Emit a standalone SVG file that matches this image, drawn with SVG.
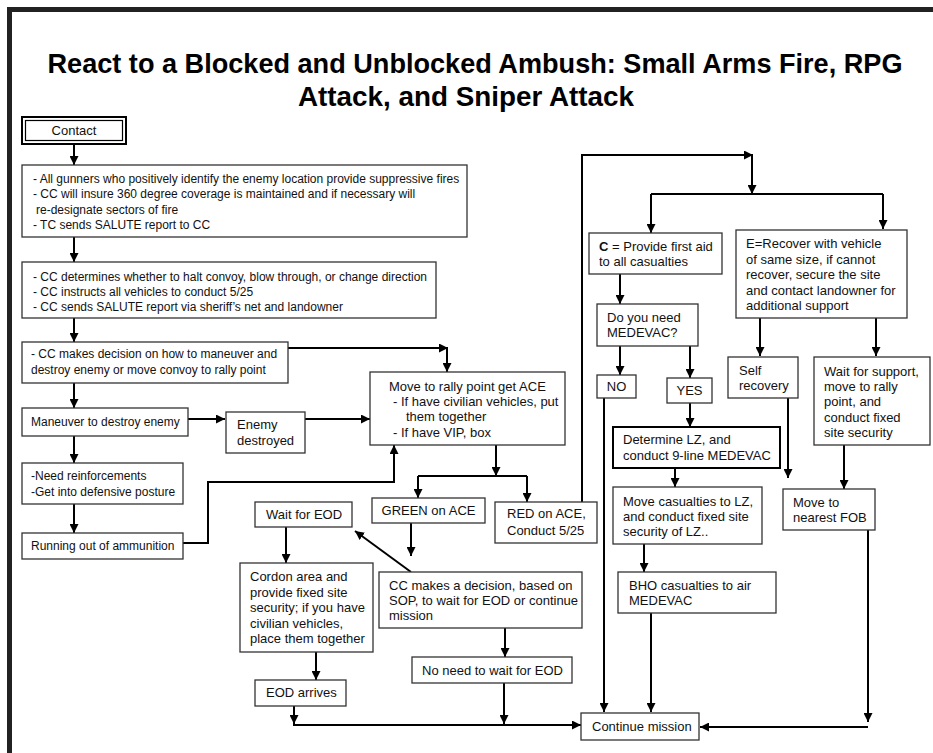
<svg xmlns="http://www.w3.org/2000/svg" width="933" height="753" viewBox="0 0 933 753">
<defs>
<marker id="ah" viewBox="0 0 10 10" refX="10" refY="5" markerWidth="9" markerHeight="9" markerUnits="userSpaceOnUse" orient="auto"><path d="M0,0 L10,5 L0,10 z" fill="#000"/></marker>
<style>
.t{font-family:"Liberation Sans",Arial,sans-serif;font-size:13px;fill:#111}
.s{font-size:12px}
.ti{font-family:"Liberation Sans",Arial,sans-serif;font-size:28px;font-weight:bold;fill:#000}
.b{fill:#fff;stroke:#333;stroke-width:1.3}
.bk{fill:#fff;stroke:#000;stroke-width:2}
.c{fill:none;stroke:#000;stroke-width:2;marker-end:url(#ah)}
.l{fill:none;stroke:#000;stroke-width:2}
</style>
</defs>
<rect x="0" y="0" width="933" height="753" fill="#fff"/>
<rect x="7" y="7" width="926" height="5" fill="#222"/>
<rect x="7" y="7" width="5" height="746" fill="#222"/>
<text class="ti" x="475" y="73" text-anchor="middle" textLength="855" lengthAdjust="spacingAndGlyphs">React to a Blocked and Unblocked Ambush: Small Arms Fire, RPG</text>
<text class="ti" x="466" y="106" text-anchor="middle" textLength="336" lengthAdjust="spacingAndGlyphs">Attack, and Sniper Attack</text>

<g id="connectors">
<path class="c" d="M74,144 V165"/>
<path class="c" d="M74,237 V262"/>
<path class="c" d="M74,318 V342"/>
<path class="c" d="M288,348 H448"/>
<path class="c" d="M447,348 V372"/>
<path class="c" d="M74,383 V408"/>
<path class="c" d="M188,419 H225"/>
<path class="c" d="M305,419 H370"/>
<path class="c" d="M74,436 V463"/>
<path class="c" d="M74,504 V533"/>
<path class="c" d="M183,543 H208 V482 H394 V445"/>
<path class="c" d="M496,445 V476"/>
<path class="l" d="M418,476 H527"/>
<path class="c" d="M418,476 V498"/>
<path class="c" d="M527,476 V502"/>
<path class="c" d="M411,523 V556"/>
<path class="c" d="M411,572 L355,531"/>
<path class="c" d="M286,527 V563"/>
<path class="c" d="M316,652 V680"/>
<path class="c" d="M505,628 V657"/>
<path class="c" d="M294,706 V724"/>
<path class="c" d="M504,683 V724"/>
<path class="c" d="M293,725 H581"/>
<path class="c" d="M582,502 V155 H753"/>
<path class="c" d="M752,155 V194"/>
<path class="l" d="M651,194 H883"/>
<path class="c" d="M651,194 V233"/>
<path class="c" d="M883,194 V229"/>
<path class="c" d="M620,274 V304"/>
<path class="c" d="M620,346 V375"/>
<path class="c" d="M690,346 V378"/>
<path class="c" d="M604,398 V712"/>
<path class="c" d="M690,403 V427"/>
<path class="c" d="M675,468 V487"/>
<path class="c" d="M644,544 V572"/>
<path class="c" d="M651,613 V712"/>
<path class="c" d="M760,318 V356"/>
<path class="c" d="M876,318 V356"/>
<path class="c" d="M788,398 V478"/>
<path class="c" d="M844,445 V489"/>
<path class="c" d="M868,530 V722"/>
<path class="c" d="M868,727 H700"/>
</g>

<g id="contact">
<rect x="22" y="117" width="104" height="27" fill="#fff" stroke="#000" stroke-width="2"/>
<rect x="25.5" y="120.5" width="97" height="20" fill="none" stroke="#000" stroke-width="1.2"/>
<text class="t" x="74" y="135" text-anchor="middle" font-size="12">Contact</text>
</g>
<g id="gunners">
<rect class="b" x="22" y="165" width="445" height="72"/>
<text class="t s" x="33" y="183">- All gunners who positively identify the enemy location provide suppressive fires</text>
<text class="t s" x="33" y="198">- CC will insure 360 degree coverage is maintained and if necessary will</text>
<text class="t s" x="36" y="214">re-designate sectors of fire</text>
<text class="t s" x="33" y="229">- TC sends SALUTE report to CC</text>
</g>
<g id="cc-determines">
<rect class="b" x="22" y="262" width="414" height="56"/>
<text class="t s" x="33" y="281">- CC determines whether to halt convoy, blow through, or change direction</text>
<text class="t s" x="33" y="296">- CC instructs all vehicles to conduct 5/25</text>
<text class="t s" x="33" y="311">- CC sends SALUTE report via sheriff’s net and landowner</text>
</g>
<g id="cc-decision-maneuver">
<rect class="b" x="22" y="342" width="266" height="41"/>
<text class="t s" x="31" y="358">- CC makes decision on how to maneuver and</text>
<text class="t s" x="31" y="374">destroy enemy or move convoy to rally point</text>
</g>
<g id="maneuver">
<rect class="b" x="22" y="408" width="166" height="28"/>
<text class="t s" x="31" y="426">Maneuver to destroy enemy</text>
</g>
<g id="enemy-destroyed">
<rect class="b" x="226" y="412" width="79" height="41"/>
<text class="t" x="237" y="429">Enemy</text>
<text class="t" x="237" y="445">destroyed</text>
</g>
<g id="reinforcements">
<rect class="b" x="22" y="463" width="161" height="41"/>
<text class="t s" x="31" y="480">-Need reinforcements</text>
<text class="t s" x="31" y="496">-Get into defensive posture</text>
</g>
<g id="ammo">
<rect class="b" x="22" y="533" width="161" height="26"/>
<text class="t s" x="31" y="550">Running out of ammunition</text>
</g>
<g id="rally">
<rect class="b" x="370" y="372" width="195" height="73"/>
<text class="t" x="389" y="391">Move to rally point get ACE</text>
<text class="t" x="393" y="406">- If have civilian vehicles, put</text>
<text class="t" x="406" y="421">them together</text>
<text class="t" x="393" y="437">- If have VIP, box</text>
</g>
<g id="wait-eod">
<rect class="b" x="255" y="502" width="97" height="25"/>
<text class="t" x="266" y="519">Wait for EOD</text>
</g>
<g id="green">
<rect class="b" x="372" y="498" width="113" height="25"/>
<text class="t" x="428.5" y="515" text-anchor="middle">GREEN on ACE</text>
</g>
<g id="red">
<rect class="b" x="495" y="502" width="102" height="41"/>
<text class="t" x="507" y="518">RED on ACE,</text>
<text class="t" x="507" y="535">Conduct 5/25</text>
</g>
<g id="cordon">
<rect class="b" x="240" y="563" width="133" height="89"/>
<text class="t" x="250" y="581">Cordon area and</text>
<text class="t" x="250" y="597">provide fixed site</text>
<text class="t" x="250" y="612">security; if you have</text>
<text class="t" x="250" y="628">civilian vehicles,</text>
<text class="t" x="250" y="643">place them together</text>
</g>
<g id="cc-eod-decision">
<rect class="b" x="379" y="572" width="203" height="56"/>
<text class="t" x="389" y="590">CC makes a decision, based on</text>
<text class="t" x="389" y="605">SOP, to wait for EOD or continue</text>
<text class="t" x="389" y="620">mission</text>
</g>
<g id="eod-arrives">
<rect class="b" x="255" y="680" width="91" height="26"/>
<text class="t" x="266" y="697">EOD arrives</text>
</g>
<g id="no-need">
<rect class="b" x="412" y="657" width="160" height="26"/>
<text class="t" x="422" y="675">No need to wait for EOD</text>
</g>
<g id="continue">
<rect class="b" x="581" y="713" width="118" height="27"/>
<text class="t" x="592" y="731">Continue mission</text>
</g>
<g id="first-aid">
<rect class="b" x="589" y="233" width="133" height="41"/>
<text class="t" x="599" y="251"><tspan font-weight="bold">C</tspan> = Provide first aid</text>
<text class="t" x="599" y="266">to all casualties</text>
</g>
<g id="need-medevac">
<rect class="b" x="597" y="304" width="101" height="42"/>
<text class="t" x="607" y="322">Do you need</text>
<text class="t" x="607" y="337">MEDEVAC?</text>
</g>
<g id="no">
<rect class="b" x="597" y="375" width="39" height="23"/>
<text class="t" x="616.5" y="391" text-anchor="middle">NO</text>
</g>
<g id="yes">
<rect class="b" x="667" y="378" width="45" height="25"/>
<text class="t" x="689.5" y="395" text-anchor="middle">YES</text>
</g>
<g id="determine-lz">
<rect class="bk" x="613" y="427" width="167" height="41"/>
<text class="t" x="623" y="444" fill="#000">Determine LZ, and</text>
<text class="t" x="623" y="460" fill="#000">conduct 9-line MEDEVAC</text>
</g>
<g id="move-casualties">
<rect class="b" x="613" y="487" width="149" height="57"/>
<text class="t" x="623" y="506">Move casualties to LZ,</text>
<text class="t" x="623" y="521">and conduct fixed site</text>
<text class="t" x="623" y="536">security of LZ..</text>
</g>
<g id="bho">
<rect class="b" x="618" y="572" width="158" height="41"/>
<text class="t" x="629" y="590">BHO casualties to air</text>
<text class="t" x="629" y="605">MEDEVAC</text>
</g>
<g id="recover">
<rect class="b" x="736" y="230" width="171" height="88"/>
<text class="t" x="746" y="248">E=Recover with vehicle</text>
<text class="t" x="746" y="264">of same size, if cannot</text>
<text class="t" x="746" y="279">recover, secure the site</text>
<text class="t" x="746" y="295">and contact landowner for</text>
<text class="t" x="746" y="310">additional support</text>
</g>
<g id="self-recovery">
<rect class="b" x="728" y="357" width="70" height="41"/>
<text class="t" x="739" y="375">Self</text>
<text class="t" x="739" y="390">recovery</text>
</g>
<g id="wait-support">
<rect class="b" x="814" y="357" width="116" height="88"/>
<text class="t" x="824" y="376">Wait for support,</text>
<text class="t" x="824" y="391">move to rally</text>
<text class="t" x="824" y="406">point, and</text>
<text class="t" x="824" y="422">conduct fixed</text>
<text class="t" x="824" y="437">site security</text>
</g>
<g id="fob">
<rect class="b" x="783" y="489" width="92" height="41"/>
<text class="t" x="793" y="507">Move to</text>
<text class="t" x="793" y="522">nearest FOB</text>
</g>
</svg>
